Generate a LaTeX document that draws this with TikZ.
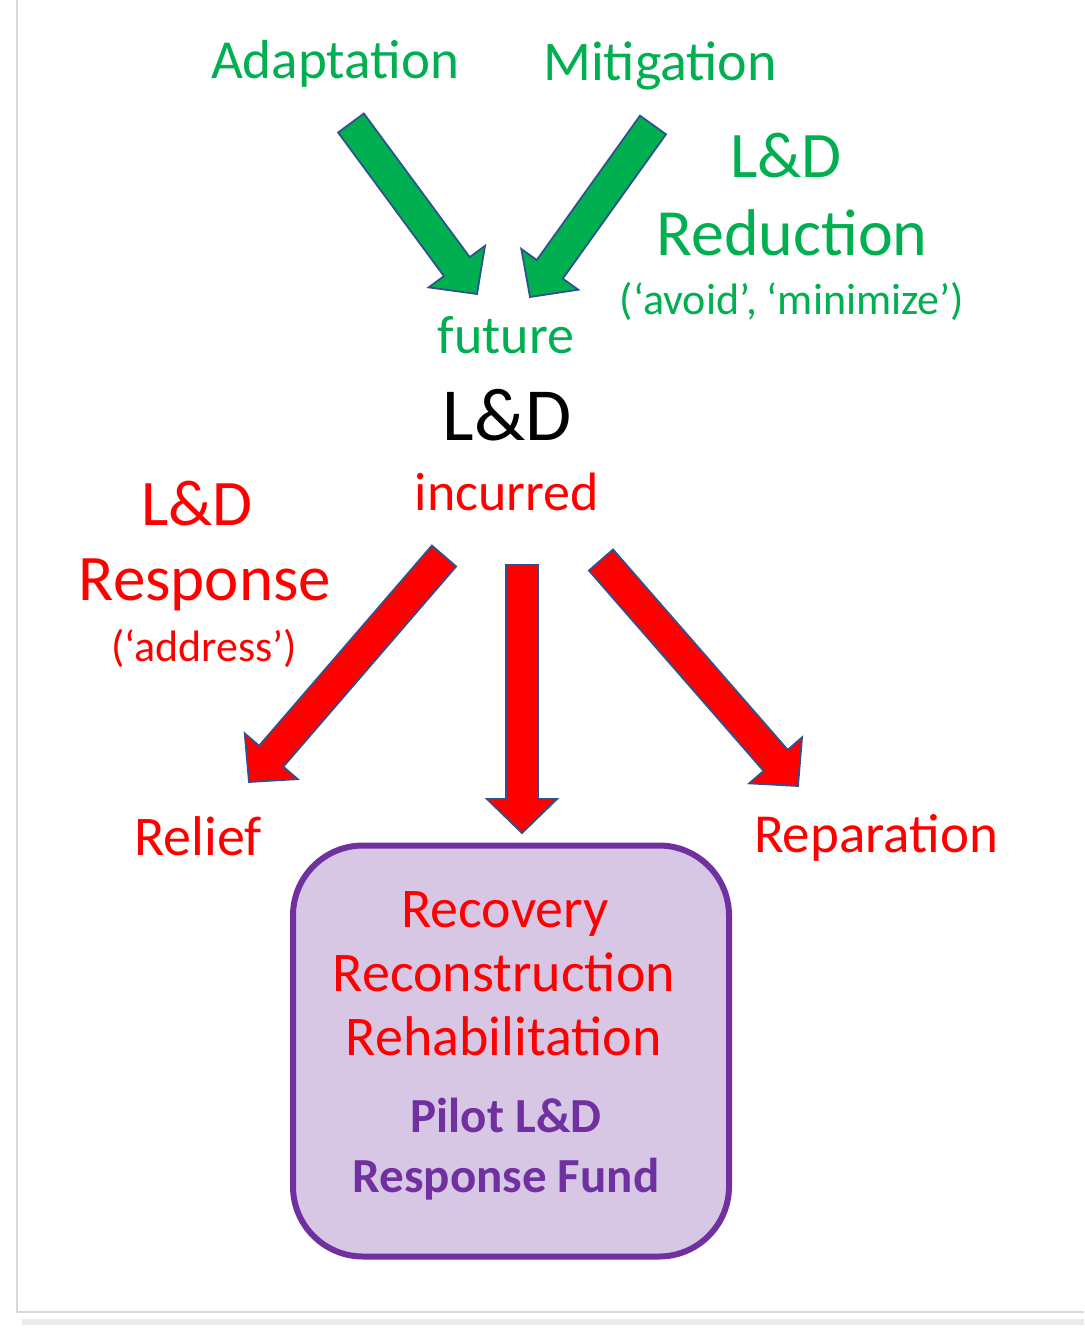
\documentclass[tikz,border=0pt]{standalone}
\usepackage{fontspec}
\setmainfont{Carlito}
\usetikzlibrary{calc}
\definecolor{ldgreen}{HTML}{00B050}
\definecolor{ldred}{HTML}{FF0000}
\definecolor{ldpurple}{HTML}{7030A0}
\definecolor{ldlilac}{HTML}{D7C7E4}
\definecolor{ldedge}{HTML}{2F528F}
% block arrow: colour, tail, tip
\newcommand\fatarrow[3]{%
  \coordinate (hb) at ($(#3)!34pt!(#2)$);
  \filldraw[fill=#1,draw=ldedge,line width=1.8pt,line join=miter]
    ($(#2)!16pt!90:(#3)$) -- ($(hb)!16pt!90:(#3)$) -- ($(hb)!35pt!90:(#3)$)
    -- (#3) -- ($(hb)!35pt!-90:(#3)$) -- ($(hb)!16pt!-90:(#3)$)
    -- ($(#2)!16pt!-90:(#3)$) -- cycle;}
\newcommand\fs[1]{\fontsize{#1}{#1}\selectfont}
\begin{document}
\begin{tikzpicture}[x=1pt,y=-1pt,
  lbl/.style={anchor=base,inner sep=0pt},
  green/.style={lbl,text=ldgreen},
  red/.style={lbl,text=ldred},
  fund/.style={draw=ldpurple,fill=ldlilac,line width=6pt,rounded corners=70pt,
    minimum width=436pt,minimum height=411pt,inner sep=0pt}]
\useasboundingbox (0,0) rectangle (1084,1330);
% card edge of the screenshot
\draw[black!15,line width=2pt] (17,0) -- (17,1312) -- (1084,1312);
\draw[black!8,line width=6pt] (22,1322) -- (1084,1322);
% top: reduction
\node[green] (adapt) at (335,78) {\fs{55}Adaptation};
\node[green] (mitig) at (660,81) {\fs{56}Mitigation};
\node[green] (redld) at (786,177) {\fs{65}L\&D};
\node[green] (red) at (792,255) {\fs{66}Reduction};
\node[green] (avoid) at (792,314) {\fs{44}(‘avoid’, ‘minimize’)};
\coordinate (gl0) at (351,123); \coordinate (gl1) at (477,294);
\coordinate (gr0) at (653,125); \coordinate (gr1) at (530,297);
\fatarrow{ldgreen}{gl0}{gl1}
\fatarrow{ldgreen}{gr0}{gr1}
% centre
\node[green] (future) at (506,353) {\fs{54}future};
\node[lbl] (ld) at (507,440) {\fs{75}L\&D};
\node[red] (incur) at (507,510) {\fs{54}incurred};
% response
\node[red] (resld) at (197,525) {\fs{65}L\&D};
\node[red] (resp) at (205,600) {\fs{65}Response};
\node[red] (addr) at (204,661) {\fs{44}(‘address’)};
\foreach \n/\a/\b in {l/{444,556}/{249,782},m/{522,565}/{522,833},r/{601,560}/{798,786}}{
  \coordinate (r\n0) at (\a); \coordinate (r\n1) at (\b);
  \fatarrow{ldred}{r\n0}{r\n1}
}
\node[red] (relief) at (198,855) {\fs{56}Relief};
\node[red] (repar) at (876,852) {\fs{55}Reparation};
% fund box
\node[fund] (box) at (511,1051) {};
\node[red] (rec1) at (505,927) {\fs{56}Recovery};
\node[red] (rec2) at (504,991) {\fs{56}Reconstruction};
\node[red] (rec3) at (504,1055) {\fs{56}Rehabilitation};
\node[lbl,text=ldpurple] (pilot) at (506,1132) {\fs{49}\bfseries Pilot L\&D};
\node[lbl,text=ldpurple] (fund) at (506,1192) {\fs{49}\bfseries Response Fund};
\end{tikzpicture}
\end{document}
